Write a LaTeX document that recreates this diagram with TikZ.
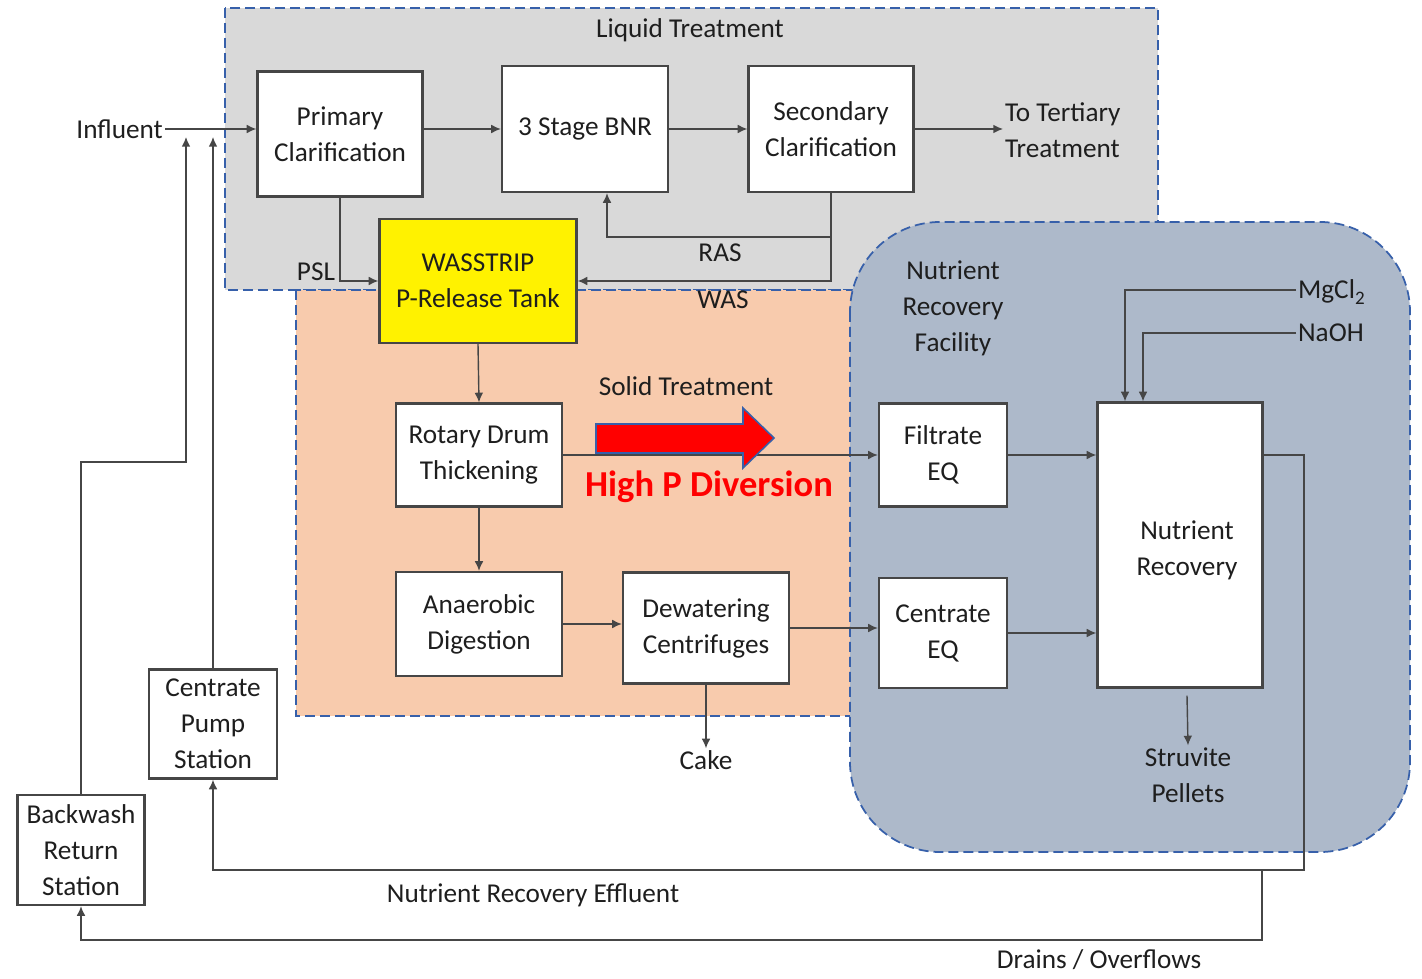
\documentclass[tikz,border=0pt]{standalone}
\usepackage{fontspec}
\setmainfont{Carlito}
\definecolor{LiquidGray}{RGB}{217,217,217}
\definecolor{SolidPeach}{RGB}{248,203,173}
\definecolor{RecoveryBlue}{RGB}{173,185,202}
\definecolor{ZoneBlue}{RGB}{55,96,170}
\definecolor{LineGray}{RGB}{70,70,70}
\definecolor{TextDark}{RGB}{30,30,30}
\usetikzlibrary{arrows.meta, positioning, calc}

\tikzset{
  zone/.style={draw=ZoneBlue, line width=1pt, dash pattern=on 0.2cm off 0.1cm},
  procbox/.style={draw=LineGray, line width=1.3pt, fill=white, align=center, inner sep=2pt},
  flow/.style={draw=LineGray, line width=0.8pt, -{Latex[length=5.5pt,width=5pt]}},
  tag/.style={align=center, inner sep=1pt},
}

\begin{document}
\begin{tikzpicture}[x=0.02cm, y=-0.02cm, font=\fontsize{15.5}{20.5}\selectfont, text=TextDark]
  \useasboundingbox (0,0) rectangle (1422,979);

  % treatment zones
  \fill[LiquidGray] (225,8) rectangle (1158,290);
  \draw[zone] (225,8) rectangle (1158,290);
  \path[zone, fill=SolidPeach] (296,290) rectangle (870,716);
  \path[zone, fill=RecoveryBlue, rounded corners=1.8cm] (850,222) rectangle (1410,852);

  \node[tag] (liq) at (690,30) {Liquid Treatment};
  \node[tag] (sol) at (686,386) {Solid Treatment};
  \node[tag] (nrf) at (953,308) {Nutrient\\Recovery\\Facility};

  % process units
  \node[procbox, minimum width=3.3cm, minimum height=2.5cm] (pc) at (340,134) {Primary\\Clarification};
  \node[procbox, minimum width=3.32cm, minimum height=2.52cm] (bnr) at (585,129) {3 Stage BNR};
  \node[procbox, minimum width=3.3cm, minimum height=2.52cm] (sc) at (831,129) {Secondary\\Clarification};
  \node[procbox, fill=yellow, minimum width=3.94cm, minimum height=2.48cm] (wass) at (478,281) {WASSTRIP\\P-Release Tank};
  \node[procbox, minimum width=3.32cm, minimum height=2.06cm] (rdt) at (479,455) {Rotary Drum\\Thickening};
  \node[procbox, minimum width=3.32cm, minimum height=2.08cm] (ad) at (479,624) {Anaerobic\\Digestion};
  \node[procbox, minimum width=3.32cm, minimum height=2.22cm] (dc) at (706,628) {Dewatering\\Centrifuges};
  \node[procbox, minimum width=2.56cm, minimum height=2.06cm] (feq) at (943,455) {Filtrate\\EQ};
  \node[procbox, minimum width=2.56cm, minimum height=2.2cm] (ceq) at (943,633) {Centrate\\EQ};
  \node[procbox, minimum width=3.3cm, minimum height=5.7cm] (nr) at (1180,545) {};
  \node[tag] (nrt) at (1187,550) {Nutrient\\Recovery};
  \node[procbox, minimum width=2.56cm, minimum height=2.18cm] (cps) at (213,724) {Centrate\\Pump\\Station};
  \node[procbox, minimum width=2.54cm, minimum height=2.2cm] (brs) at (81,850) {Backwash\\Return\\Station};

  % stream labels
  \node[tag, anchor=east] (inf) at (165,129) {Influent};
  \node[tag, anchor=west, align=left] (tt) at (1003,130) {To Tertiary\\Treatment};
  \node[tag] (psl) at (316,272) {PSL};
  \node[tag] (ras) at (720,253) {RAS};
  \node[tag] (was) at (723,300) {WAS};
  \node[tag] (cake) at (706,760) {Cake};
  \node[tag, anchor=west] (mg) at (1296,292) {MgCl\textsubscript{\raisebox{-0.25ex}{2}}};
  \node[tag, anchor=west] (naoh) at (1296,333) {NaOH};
  \node[tag] (sp) at (1188,775) {Struvite\\Pellets};
  \node[tag] (nre) at (533,895) {Nutrient Recovery Effluent};
  \node[tag] (dro) at (1099,960) {Drains / Overflows};

  \coordinate (bwIn) at (186,137);
  \coordinate (cpIn) at (213,137);
  \coordinate (bwK) at (186,462);
  \coordinate (rasT) at (831,237);
  \coordinate (effR) at (1304,870);
  \coordinate (drT) at (1262,870);
  \coordinate (drB) at (1262,940);

  % liquid train
  \draw[flow] (inf.east) -- (inf.east -| pc.west);
  \draw[flow] (pc.east |- bnr.west) -- (bnr.west);
  \draw[flow] (bnr.east) -- (sc.west);
  \draw[flow] (sc.east) -- (sc.east -| tt.west);
  \draw[flow] (pc.south) |- (wass.west);
  \draw[flow] (sc.south) |- (wass.east);
  \draw[flow] (rasT) -| ([xshift=0.44cm]bnr.south);

  % solids train
  \draw[flow] (wass.south) -- (rdt.north);
  \draw[flow] (rdt.south) -- (ad.north);
  \draw[flow] (ad.east) -- (ad.east -| dc.west);
  \draw[flow] (dc.south) -- (cake.north);
  \draw[flow] (rdt.east) -- (rdt.east -| feq.west);
  \draw[flow] (dc.east) -- (dc.east -| ceq.west);

  % nutrient recovery
  \draw[flow] (feq.east) -- (feq.east -| nr.west);
  \draw[flow] (ceq.east) -- (ceq.east -| nr.west);
  \draw[flow] (mg.west |- 0,290) -| ([xshift=-1.1cm]nr.north);
  \draw[flow] (naoh.west) -| ([xshift=-0.74cm]nr.north);
  \draw[flow] ([xshift=0.14cm,yshift=-0.14cm]nr.south) -- (sp.north);

  % return streams
  \draw[flow] (nr.east |- feq.east) -| (effR) -| (cps.south);
  \draw[flow] (drT) -- (drB) -| (brs.south);
  \draw[flow] (cps.north) -- (cpIn);
  \draw[flow] (brs.north) |- (bwK) -- (bwIn);

  % diversion
  \filldraw[fill=red, draw=ZoneBlue, line width=0.9pt]
    (596,424) -- (743,424) -- (743,408) -- (774,438) -- (743,468) -- (743,453) -- (596,453) -- cycle;
  \node[font=\fontsize{20.8}{24}\selectfont\bfseries, text=red] (hpd) at (709,487) {High P Diversion};
\end{tikzpicture}
\end{document}
